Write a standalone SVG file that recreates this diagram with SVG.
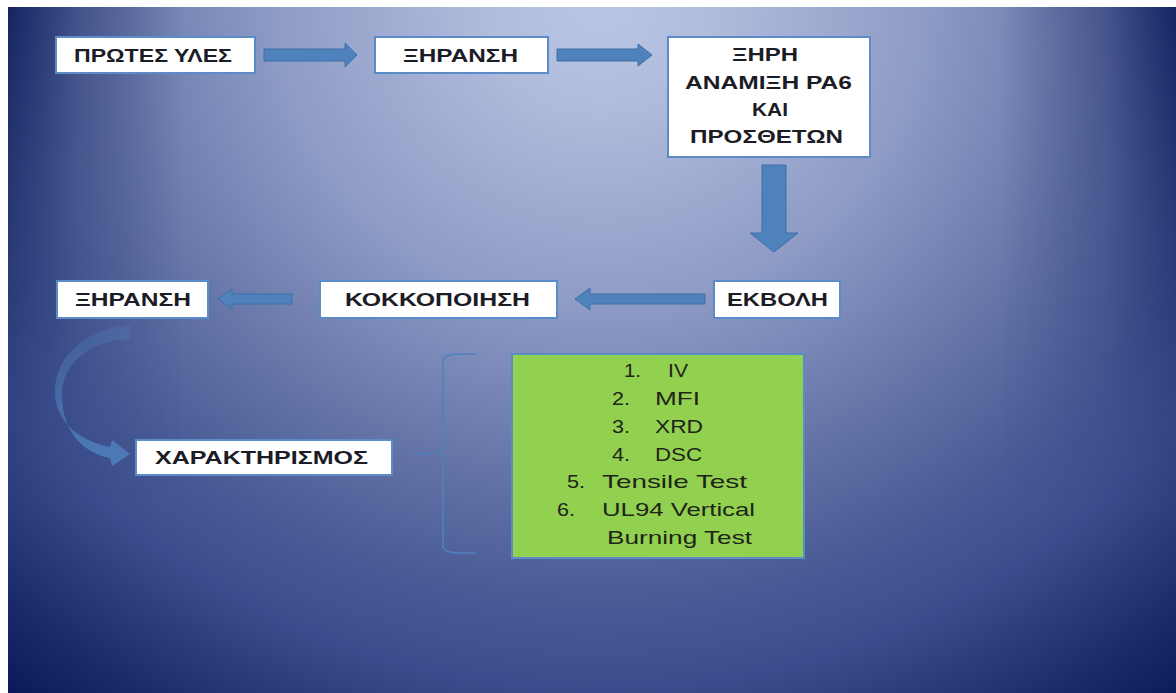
<svg xmlns="http://www.w3.org/2000/svg" width="1176" height="693" viewBox="0 0 1176 693">
<defs>
<radialGradient id="bg" gradientUnits="userSpaceOnUse" cx="600" cy="0" r="945" gradientTransform="translate(600 0) scale(1 0.943) translate(-600 0)">
<stop offset="0" stop-color="#bac6e4"/>
<stop offset="0.12" stop-color="#b0bcdc"/>
<stop offset="0.34" stop-color="#8e9cc6"/>
<stop offset="0.53" stop-color="#6676a9"/>
<stop offset="0.67" stop-color="#4a5c96"/>
<stop offset="0.77" stop-color="#3b4d8c"/>
<stop offset="0.92" stop-color="#1a2a68"/>
<stop offset="1" stop-color="#0a1a58"/>
</radialGradient>
<linearGradient id="edgeH" gradientUnits="userSpaceOnUse" x1="8" y1="0" x2="1176" y2="0">
<stop offset="0" stop-color="#0a1a58" stop-opacity="0.85"/>
<stop offset="0.06" stop-color="#0a1a58" stop-opacity="0.35"/>
<stop offset="0.15" stop-color="#0a1a58" stop-opacity="0"/>
<stop offset="0.85" stop-color="#0a1a58" stop-opacity="0"/>
<stop offset="0.94" stop-color="#0a1a58" stop-opacity="0.35"/>
<stop offset="1" stop-color="#0a1a58" stop-opacity="0.85"/>
</linearGradient>
<linearGradient id="maskV" gradientUnits="userSpaceOnUse" x1="0" y1="7" x2="0" y2="693">
<stop offset="0" stop-color="#ffffff"/>
<stop offset="0.43" stop-color="#808080"/>
<stop offset="0.72" stop-color="#000000"/>
<stop offset="1" stop-color="#000000"/>
</linearGradient>
<mask id="edgeMask" maskUnits="userSpaceOnUse" x="0" y="0" width="1176" height="693">
<rect x="0" y="0" width="1176" height="693" fill="url(#maskV)"/>
</mask>
<linearGradient id="curve" gradientUnits="userSpaceOnUse" x1="0" y1="325" x2="0" y2="466">
<stop offset="0" stop-color="#4f81bd" stop-opacity="0.25"/>
<stop offset="1" stop-color="#4f81bd" stop-opacity="0.9"/>
</linearGradient>
<style>
.box{fill:#ffffff;stroke:#5b8cc8;stroke-width:2}
.lbl{font-family:"Liberation Sans",Arial,sans-serif;font-weight:bold;font-size:19px;fill:#1c1c26}
.lst{font-family:"Liberation Sans",Arial,sans-serif;font-size:19px;fill:#1f2418}
.arr{fill:#4f81bd;stroke:#3e6ea6;stroke-width:1}
.brace{fill:none;stroke:#4f81bd;stroke-width:1.6}
</style>
</defs>
<rect x="0" y="0" width="1176" height="693" fill="#ffffff"/>
<rect x="8" y="7" width="1168" height="686" fill="url(#bg)"/>
<rect x="8" y="7" width="1168" height="686" fill="url(#edgeH)" mask="url(#edgeMask)"/>

<g id="connectors">
<polygon class="arr" points="264,49 345,49 345,43 357,55 345,67 345,61 264,61"/>
<polygon class="arr" points="557,49 638,49 638,44 652,55 638,66 638,61 557,61"/>
<polygon class="arr" points="762,165 786,165 786,233 798,233 774,252 750,233 762,233"/>
<polygon class="arr" points="705,294 590,294 590,288 575,299 590,310 590,304 705,304"/>
<polygon class="arr" points="292,294 232,294 232,289 218,299 232,309 232,304 292,304"/>
<path d="M130,325 C88,328 55,355 55,392 C55,420 78,441 110,447 L112,440 L130,454 L112,466 L110,458 C80,452 62,428 62,395 C62,362 92,340 130,339 Z" fill="url(#curve)"/>
<path class="brace" d="M476,354 C456,354 443,353 443,362 L443,446 C443,452 440,454 412,454 M440,454 C443,456 443,458 443,463 L443,545 C443,554 456,553 476,553"/>
</g>

<g id="n1">
<rect class="box" x="56" y="37" width="199" height="36"/>
<text class="lbl" x="74" y="62" textLength="158" lengthAdjust="spacingAndGlyphs">ΠΡΩΤΕΣ ΥΛΕΣ</text>
</g>
<g id="n2">
<rect class="box" x="375" y="37" width="173" height="36"/>
<text class="lbl" x="403" y="62" textLength="115" lengthAdjust="spacingAndGlyphs">ΞΗΡΑΝΣΗ</text>
</g>
<g id="n3">
<rect class="box" x="668" y="37" width="202" height="120"/>
<text class="lbl" x="732" y="61" textLength="66" lengthAdjust="spacingAndGlyphs">ΞΗΡΗ</text>
<text class="lbl" x="685" y="89" textLength="167" lengthAdjust="spacingAndGlyphs">ΑΝΑΜΙΞΗ PA6</text>
<text class="lbl" x="752" y="116" textLength="36" lengthAdjust="spacingAndGlyphs">ΚΑΙ</text>
<text class="lbl" x="690" y="143" textLength="153" lengthAdjust="spacingAndGlyphs">ΠΡΟΣΘΕΤΩΝ</text>
</g>
<g id="n4">
<rect class="box" x="714" y="281" width="126" height="37"/>
<text class="lbl" x="727" y="306" textLength="101" lengthAdjust="spacingAndGlyphs">ΕΚΒΟΛΗ</text>
</g>
<g id="n5">
<rect class="box" x="320" y="281" width="237" height="37"/>
<text class="lbl" x="345" y="306" textLength="185" lengthAdjust="spacingAndGlyphs">ΚΟΚΚΟΠΟΙΗΣΗ</text>
</g>
<g id="n6">
<rect class="box" x="57" y="281" width="151" height="37"/>
<text class="lbl" x="75" y="306" textLength="116" lengthAdjust="spacingAndGlyphs">ΞΗΡΑΝΣΗ</text>
</g>
<g id="n7">
<rect class="box" x="136" y="440" width="256" height="35"/>
<text class="lbl" x="155" y="464" textLength="213" lengthAdjust="spacingAndGlyphs">ΧΑΡΑΚΤΗΡΙΣΜΟΣ</text>
</g>
<g id="n8">
<rect x="512" y="354" width="292" height="204" fill="#92d050" stroke="#5b8cc8" stroke-width="2"/>
<text class="lst" x="624" y="377" textLength="17" lengthAdjust="spacingAndGlyphs">1.</text>
<text class="lst" x="668" y="377" textLength="20" lengthAdjust="spacingAndGlyphs">IV</text>
<text class="lst" x="612" y="405" textLength="18" lengthAdjust="spacingAndGlyphs">2.</text>
<text class="lst" x="655" y="405" textLength="45" lengthAdjust="spacingAndGlyphs">MFI</text>
<text class="lst" x="612" y="433" textLength="18" lengthAdjust="spacingAndGlyphs">3.</text>
<text class="lst" x="655" y="433" textLength="48" lengthAdjust="spacingAndGlyphs">XRD</text>
<text class="lst" x="612" y="461" textLength="18" lengthAdjust="spacingAndGlyphs">4.</text>
<text class="lst" x="655" y="461" textLength="47" lengthAdjust="spacingAndGlyphs">DSC</text>
<text class="lst" x="567" y="488" textLength="18" lengthAdjust="spacingAndGlyphs">5.</text>
<text class="lst" x="602" y="488" textLength="145" lengthAdjust="spacingAndGlyphs">Tensile Test</text>
<text class="lst" x="557" y="516" textLength="18" lengthAdjust="spacingAndGlyphs">6.</text>
<text class="lst" x="602" y="516" textLength="153" lengthAdjust="spacingAndGlyphs">UL94 Vertical</text>
<text class="lst" x="607" y="544" textLength="145" lengthAdjust="spacingAndGlyphs">Burning Test</text>
</g>
</svg>
